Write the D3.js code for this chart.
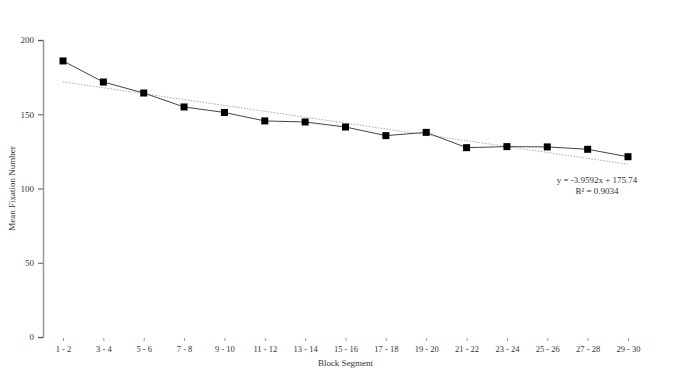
<!DOCTYPE html>
<html>
<head>
<meta charset="utf-8">
<script src="https://cdn.jsdelivr.net/npm/d3@7"></script>
<style>
  body { margin: 0; background: #fff; }
  text { font-family: "Liberation Serif", "DejaVu Serif", serif; fill: #333; }
</style>
</head>
<body>
<div id="chart"></div>
<script>
// Data
const segments = ["1 - 2", "3 - 4", "5 - 6", "7 - 8", "9 - 10", "11 - 12", "13 - 14", "15 - 16",
                  "17 - 18", "19 - 20", "21 - 22", "23 - 24", "25 - 26", "27 - 28", "29 - 30"];
const fixations = [185.9, 171.7, 164.3, 154.9, 151.2, 145.5, 144.8, 141.4,
                   135.6, 137.8, 127.5, 128.2, 128.0, 126.4, 121.4];
const yTicks = [0, 50, 100, 150, 200];
const trendSlope = -3.9592;
const trendIntercept = 175.74;
const trendLabel = ["y = -3.9592x + 175.74", "R\u00b2 = 0.9034"];

const W = 678, H = 371;
const margin = { top: 40, right: 50, bottom: 34, left: 43 };

const svg = d3.select("#chart").append("svg")
    .attr("width", W)
    .attr("height", H);

const x = d3.scalePoint()
    .domain(segments)
    .range([63, 628]);

const y = d3.scaleLinear()
    .domain([0, 200])
    .range([H - margin.bottom, margin.top]);

// Y axis
const yAxis = svg.append("g")
    .attr("transform", `translate(${margin.left},0)`)
    .call(d3.axisLeft(y).tickValues(yTicks).tickSize(5).tickPadding(4));
yAxis.select(".domain").attr("stroke", "#999").attr("stroke-width", 1.5);
yAxis.selectAll(".tick line").attr("stroke", "#555");
yAxis.selectAll(".tick text").style("font-size", "9px").attr("fill", "#333");

// X axis (labels + small ticks, no line)
const xAxis = svg.append("g")
    .attr("transform", `translate(0,${H - margin.bottom + 1})`)
    .call(d3.axisBottom(x).tickSize(3).tickPadding(5));
xAxis.select(".domain").remove();
xAxis.selectAll(".tick line").attr("stroke", "#999");
xAxis.selectAll(".tick text").style("font-size", "8.5px").attr("fill", "#333");

// Axis titles
svg.append("text")
    .attr("x", (x.range()[0] + x.range()[1]) / 2)
    .attr("y", 366)
    .attr("text-anchor", "middle")
    .style("font-size", "9px")
    .text("Block Segment");

svg.append("text")
    .attr("transform", `translate(15,${y(100)}) rotate(-90)`)
    .attr("text-anchor", "middle")
    .style("font-size", "9px")
    .text("Mean Fixation Number");

// Trend line
const idx = d3.range(1, segments.length + 1);
svg.append("line")
    .attr("x1", x(segments[0]))
    .attr("y1", y(trendSlope * idx[0] + trendIntercept))
    .attr("x2", x(segments[segments.length - 1]))
    .attr("y2", y(trendSlope * idx[idx.length - 1] + trendIntercept))
    .attr("stroke", "#aaa")
    .attr("stroke-width", 1)
    .attr("stroke-dasharray", "1.5,1.5");

// Data line
const line = d3.line()
    .x((d, i) => x(segments[i]))
    .y(d => y(d));

svg.append("path")
    .datum(fixations)
    .attr("d", line)
    .attr("fill", "none")
    .attr("stroke", "#444")
    .attr("stroke-width", 1);

// Markers
svg.selectAll(".marker")
    .data(fixations)
    .enter()
    .append("rect")
    .attr("class", "marker")
    .attr("x", (d, i) => x(segments[i]) - 3.5)
    .attr("y", d => y(d) - 3.5)
    .attr("width", 7)
    .attr("height", 7)
    .attr("fill", "#000");

// Equation label
const eq = svg.append("text")
    .attr("x", 597)
    .attr("y", 183)
    .attr("text-anchor", "middle")
    .style("font-size", "9px");
eq.selectAll("tspan")
    .data(trendLabel)
    .enter()
    .append("tspan")
    .attr("x", 597)
    .attr("dy", (d, i) => i === 0 ? 0 : 10.5)
    .text(d => d);
</script>
</body>
</html>
